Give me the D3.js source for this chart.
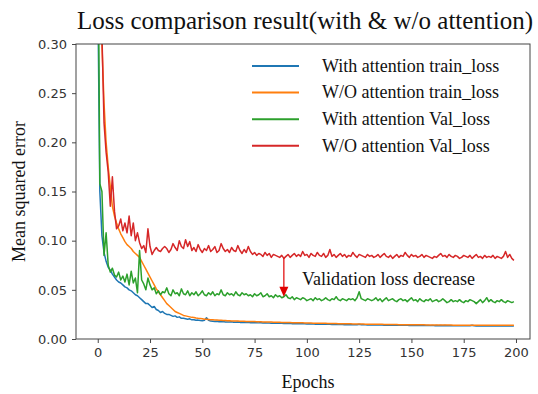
<!DOCTYPE html>
<html><head><meta charset="utf-8">
<script src="https://cdn.jsdelivr.net/npm/d3@7"></script>
<style>html,body{margin:0;padding:0;background:#fff;}svg{display:block;}</style>
</head><body>
<div id="chart"></div>
<script>
const seriesNames = ["With attention train_loss","W/O attention train_loss","With attention Val_loss","W/O attention Val_loss"];
const seriesColors = ["#1f77b4","#ff7f0e","#2ca02c","#d62728"];
const yTicks = [0.00,0.05,0.10,0.15,0.20,0.25,0.30];
const xTicks = [0,25,50,75,100,125,150,175,200];

const withTrain = [
0.36,0.15,0.105,0.088,0.079,0.073,0.070,0.066,0.063,0.060,
0.058,0.057,0.055,0.053,0.052,0.050,0.049,0.047,0.045,0.044,
0.042,0.040,0.038,0.036,0.036,0.034,0.032,0.033,0.030,0.029,
0.027,0.028,0.026,0.025,0.025,0.024,0.023,0.0235,0.022,0.0225,
0.021,0.021,0.0205,0.020,0.0205,0.0195,0.0195,0.019,0.0192,0.0188,
0.0185,0.019,0.0215,0.019,0.0182,0.018,
0.0178,0.0180,0.0176,0.0175,0.0177,0.0173,0.0174,0.0172,0.0175,0.0171,
0.0170,0.0172,0.0169,0.0171,0.0168,0.0167,0.0169,0.0166,0.0168,0.0165,
0.0166,0.0164,0.0165,0.0163,0.0165,0.0162,0.0163,0.0161,0.0163,0.0160,
0.0162,0.0159,0.0161,0.0158,0.0160,0.0157,0.0159,0.0156,0.0158,0.0155,
0.0157,0.0155,0.0154,0.0156,0.0153,0.0155,0.0152,0.0154,0.0151,0.0153,
0.0150,0.0152,0.0150,0.0151,0.0149,0.0151,0.0148,0.0150,0.0147,0.0149,
0.0147,0.0148,0.0146,0.0148,0.0145,0.0147,0.0145,0.0146,0.0144,0.0150,
0.0145,0.0144,0.0146,0.0143,0.0145,0.0143,0.0144,0.0142,0.0144,0.0142,
0.0143,0.0141,0.0143,0.0141,0.0142,0.0140,0.0142,0.0140,0.0141,0.0139,
0.0141,0.0139,0.0140,0.0138,0.0140,0.0138,0.0139,0.0137,0.0139,0.0137,
0.0138,0.0137,0.0138,0.0136,0.0138,0.0136,0.0137,0.0136,0.0137,0.0135,
0.0137,0.0135,0.0136,0.0135,0.0136,0.0134,0.0136,0.0134,0.0135,0.0134,
0.0135,0.0134,0.0135,0.0140,0.0134,0.0133,0.0135,0.0133,0.0134,0.0133,
0.0134,0.0133,0.0134,0.0132,0.0134,0.0132,0.0133,0.0132,0.0133,0.0132,
0.0133,0.0132,0.0133,0.0132];

const woTrain = [
0.55,0.40,0.30,0.24,0.20,0.175,0.155,0.135,0.125,0.118,
0.112,0.107,0.103,0.099,0.096,0.094,0.092,0.089,0.087,0.085,
0.083,0.079,0.075,0.071,0.067,0.063,0.059,0.055,0.051,0.048,
0.045,0.042,0.039,0.036,0.034,0.032,0.030,0.028,0.027,0.026,
0.025,0.024,0.0235,0.023,0.0225,0.022,0.0218,0.0213,0.021,0.0208,
0.0205,
0.0202,0.0200,0.0198,0.0196,0.0195,0.0193,0.0192,0.0191,0.0190,0.0188,
0.0188,0.0186,0.0186,0.0184,0.0184,0.0183,0.0182,0.0181,0.0181,0.0180,
0.0179,0.0179,0.0178,0.0177,0.0177,0.0176,0.0175,0.0175,0.0174,0.0174,
0.0173,0.0172,0.0172,0.0171,0.0171,0.0170,0.0170,0.0169,0.0168,0.0168,
0.0167,0.0167,0.0166,0.0166,0.0165,0.0165,0.0164,0.0164,0.0163,0.0163,
0.0162,0.0162,0.0161,0.0161,0.0160,0.0160,0.0160,0.0159,0.0159,0.0158,
0.0158,0.0157,0.0157,0.0157,0.0156,0.0156,0.0155,0.0155,0.0155,0.0154,
0.0154,0.0153,0.0153,0.0153,0.0152,0.0152,0.0152,0.0151,0.0151,0.0151,
0.0150,0.0150,0.0150,0.0149,0.0149,0.0149,0.0148,0.0148,0.0148,0.0147,
0.0147,0.0147,0.0147,0.0146,0.0146,0.0146,0.0146,0.0145,0.0145,0.0145,
0.0145,0.0144,0.0144,0.0144,0.0144,0.0144,0.0143,0.0143,0.0143,0.0143,
0.0143,0.0143,0.0142,0.0142,0.0142,0.0142,0.0142,0.0142,0.0142,0.0141,
0.0141,0.0141,0.0141,0.0141,0.0141,0.0141,0.0141,0.0141,0.0141,0.0141,
0.0141,0.0140,0.0140,0.0140,0.0140,0.0140,0.0140,0.0140,0.0140,0.0140,
0.0140,0.0140,0.0140,0.0140,0.0140,0.0140,0.0140,0.0140,0.0140];

const withVal = [
0.45,0.158,0.150,0.085,0.108,0.075,0.068,0.072,0.065,0.063,
0.068,0.060,0.064,0.058,0.066,0.055,0.069,0.057,0.062,0.047,
0.090,0.060,0.056,0.050,0.062,0.055,0.050,0.052,0.046,0.049,
0.045,0.048,0.047,0.052,0.046,0.044,0.050,0.046,0.047,0.044,
0.051,
0.046,0.045,0.049,0.044,0.047,0.045,0.048,0.044,0.046,0.049,
0.045,0.044,0.047,0.045,0.048,0.044,0.046,0.045,0.050,0.045,
0.044,0.047,0.045,0.046,0.044,0.048,0.045,0.044,0.047,0.045,
0.046,0.044,0.045,0.043,0.046,0.044,0.045,0.047,0.043,0.044,
0.046,0.043,0.044,0.042,0.045,0.043,0.044,0.042,0.043,0.045,
0.042,0.041,0.043,0.040,0.042,0.041,0.040,0.042,0.041,0.039,
0.040,0.041,0.039,0.042,0.040,0.041,0.039,0.040,0.042,0.040,
0.039,0.041,0.040,0.043,0.040,0.039,0.041,0.040,0.039,0.041,
0.040,0.041,0.039,0.042,0.048,0.041,0.040,0.039,0.041,0.040,
0.039,0.040,0.042,0.039,0.041,0.038,0.040,0.042,0.039,0.040,
0.041,0.039,0.038,0.040,0.041,0.039,0.040,0.038,0.040,0.042,
0.039,0.040,0.038,0.041,0.039,0.038,0.040,0.039,0.041,0.038,
0.039,0.040,0.038,0.039,0.041,0.039,0.037,0.038,0.040,0.038,
0.039,0.038,0.040,0.038,0.037,0.039,0.038,0.040,0.039,0.038,
0.036,0.038,0.040,0.037,0.039,0.042,0.038,0.040,0.038,0.037,
0.039,0.038,0.040,0.038,0.037,0.039,0.038,0.037,0.038];

const woVal = [
0.60,0.45,0.31,0.22,0.19,0.17,0.135,0.165,0.130,0.112,
0.115,0.122,0.110,0.118,0.108,0.125,0.105,0.118,0.100,0.108,
0.098,0.092,0.095,0.088,0.112,0.094,0.086,0.090,0.093,0.090,
0.089,0.092,0.094,0.092,0.088,0.091,0.097,0.093,0.090,0.100,
0.094,0.092,0.101,0.094,0.099,0.090,
0.093,0.089,0.096,0.091,0.088,0.092,0.090,0.095,0.089,0.091,
0.094,0.088,0.090,0.097,0.092,0.089,0.091,0.088,0.093,0.090,
0.089,0.095,0.090,0.087,0.091,0.088,0.094,0.089,0.086,0.088,
0.085,0.087,0.086,0.084,0.088,0.085,0.087,0.083,0.086,0.085,
0.084,0.083,0.085,0.082,0.084,0.086,0.083,0.085,0.087,0.084,
0.086,0.084,0.089,0.085,0.086,0.083,0.087,0.085,0.084,0.088,
0.085,0.084,0.087,0.083,0.085,0.091,0.084,0.086,0.083,0.085,
0.087,0.084,0.086,0.083,0.085,0.084,0.088,0.085,0.083,0.086,
0.085,0.084,0.083,0.086,0.084,0.085,0.083,0.084,0.086,0.083,
0.085,0.087,0.084,0.083,0.085,0.082,0.084,0.086,0.083,0.085,
0.084,0.088,0.085,0.083,0.086,0.084,0.085,0.083,0.084,0.086,
0.083,0.085,0.084,0.083,0.082,0.084,0.083,0.085,0.087,0.084,
0.085,0.083,0.086,0.084,0.083,0.085,0.084,0.082,0.083,0.085,
0.084,0.083,0.085,0.082,0.084,0.086,0.083,0.084,0.082,0.085,
0.083,0.084,0.083,0.085,0.082,0.084,0.083,0.082,0.084,0.089,
0.083,0.086,0.082,0.080];

const annotationText = "Validation loss decrease";
const annotationEpoch = 89;
const titleText = "Loss comparison result(with & w/o attention)";

const W = 538, H = 394;
const plot = {l:76, r:530, t:44, b:339};
const svg = d3.select("#chart").append("svg").attr("width",W).attr("height",H);

const x = d3.scaleLinear().domain([-10.4, 206.7]).range([plot.l, plot.r]);
const y = d3.scaleLinear().domain([0, 0.30]).range([plot.b, plot.t]);

svg.append("defs").append("clipPath").attr("id","clip")
  .append("rect").attr("x",plot.l).attr("y",plot.t).attr("width",plot.r-plot.l).attr("height",plot.b-plot.t);

const allSeries = [withTrain, woTrain, withVal, woVal];
const line = d3.line().x((d,i)=>x(i)).y(d=>y(d));
const g = svg.append("g").attr("clip-path","url(#clip)");
allSeries.forEach((s,k)=>{
  g.append("path").datum(s).attr("d",line).attr("fill","none")
   .attr("stroke",seriesColors[k]).attr("stroke-width",1.5).attr("stroke-linejoin","round");
});

// axes
const tickFont = "'DejaVu Sans', sans-serif";
const xAxis = svg.append("g").attr("transform",`translate(0,${plot.b})`)
  .call(d3.axisBottom(x).tickValues(xTicks).tickSize(4).tickPadding(5).tickFormat(d3.format("d")));
const yAxis = svg.append("g").attr("transform",`translate(${plot.l},0)`)
  .call(d3.axisLeft(y).tickValues(yTicks).tickSize(4).tickPadding(5).tickFormat(d3.format(".2f")));
[xAxis,yAxis].forEach(a=>{
  a.select(".domain").remove();
  a.selectAll(".tick line").attr("stroke","#333").attr("stroke-width",0.9);
  a.selectAll(".tick text").attr("font-family",tickFont).attr("font-size",13).attr("fill","#333");
});

// frame
svg.append("rect").attr("x",plot.l).attr("y",plot.t).attr("width",plot.r-plot.l).attr("height",plot.b-plot.t)
  .attr("fill","none").attr("stroke","#444").attr("stroke-width",1);

const serif = "'Liberation Serif','Times New Roman',serif";
svg.append("text").attr("x",305).attr("y",29).attr("text-anchor","middle")
  .attr("font-family",serif).attr("font-size",25).attr("fill","#111").text(titleText);
svg.append("text").attr("x",308).attr("y",388).attr("text-anchor","middle")
  .attr("font-family",serif).attr("font-size",18).attr("fill","#111").text("Epochs");
svg.append("text").attr("transform",`translate(25,${(plot.t+plot.b)/2}) rotate(-90)`).attr("text-anchor","middle")
  .attr("font-family",serif).attr("font-size",18).attr("fill","#111").text("Mean squared error");

// legend
const lg = svg.append("g");
seriesNames.forEach((n,k)=>{
  const yy = 66 + k*26.6;
  lg.append("line").attr("x1",252).attr("x2",299).attr("y1",yy).attr("y2",yy)
    .attr("stroke",seriesColors[k]).attr("stroke-width",2);
  lg.append("text").attr("x",322).attr("y",yy).attr("dy","0.32em")
    .attr("font-family",serif).attr("font-size",18).attr("fill","#111").text(n);
});

// annotation arrow
const ax = x(annotationEpoch), y1 = y(woVal[annotationEpoch]), y2 = y(withVal[annotationEpoch]);
svg.append("line").attr("x1",ax).attr("x2",ax).attr("y1",y1).attr("y2",y2-8)
  .attr("stroke","#e00000").attr("stroke-width",1.2);
svg.append("path").attr("d",`M${ax-4.5},${y2-10}L${ax+4.5},${y2-10}L${ax},${y2}Z`).attr("fill","#e00000");
svg.append("text").attr("x",302).attr("y",285).attr("font-family",serif).attr("font-size",18)
  .attr("fill","#111").text(annotationText);
</script>
</body></html>
